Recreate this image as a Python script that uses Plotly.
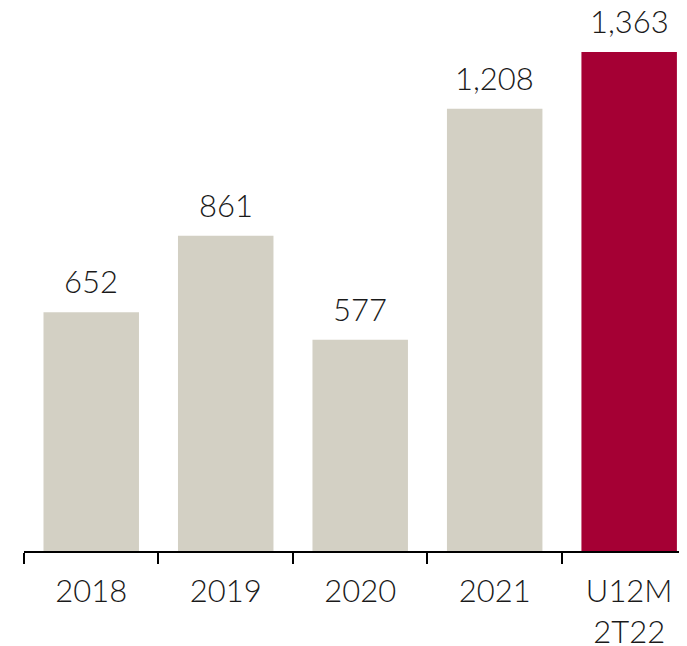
import plotly.graph_objects as go

categories = ["2018", "2019", "2020", "2021", "U12M<br>2T22"]
values = [652, 861, 577, 1208, 1363]
labels = ["652", "861", "577", "1,208", "1,363"]

_BEIGE = "#D3D0C4"
_RED = "#A50034"
_TEXT = "#1a1a1a"
_FONT = "Lato, Open Sans, sans-serif"

colors = [_BEIGE] * (len(values) - 1) + [_RED]

fig = go.Figure(
    go.Bar(
        x=categories,
        y=values,
        marker_color=colors,
        marker_line_width=0,
        width=0.71,
        hoverinfo="skip",
    )
)

# category axis: annotate by index so "2018" is not read as a position
for i, (val, lab) in enumerate(zip(values, labels)):
    fig.add_annotation(
        x=i,
        y=val,
        text=lab,
        showarrow=False,
        yanchor="bottom",
        yshift=10,
        font=dict(size=31, color=_TEXT, family=_FONT, weight=300),
    )

# page body has an 8px margin, so the figure is sized 8px smaller
fig.update_layout(
    width=679,
    height=638,
    margin=dict(l=16, r=0, t=0, b=95),
    paper_bgcolor="white",
    plot_bgcolor="white",
    font=dict(family=_FONT, size=31, color=_TEXT, weight=300),
    showlegend=False,
)
fig.update_xaxes(
    type="category",
    range=[-0.5, 4.43],
    automargin=False,
    showline=True,
    linecolor="black",
    linewidth=2,
    ticks="outside",
    tickson="boundaries",
    ticklen=11,
    tickwidth=2,
    tickcolor="black",
    ticklabelstandoff=12,
    showgrid=False,
    zeroline=False,
    tickfont=dict(size=31, color=_TEXT, family=_FONT, weight=300),
)
fig.update_yaxes(
    range=[0, 1483],
    visible=False,
    automargin=False,
    showgrid=False,
    zeroline=False,
)

fig.write_html("out.html")
